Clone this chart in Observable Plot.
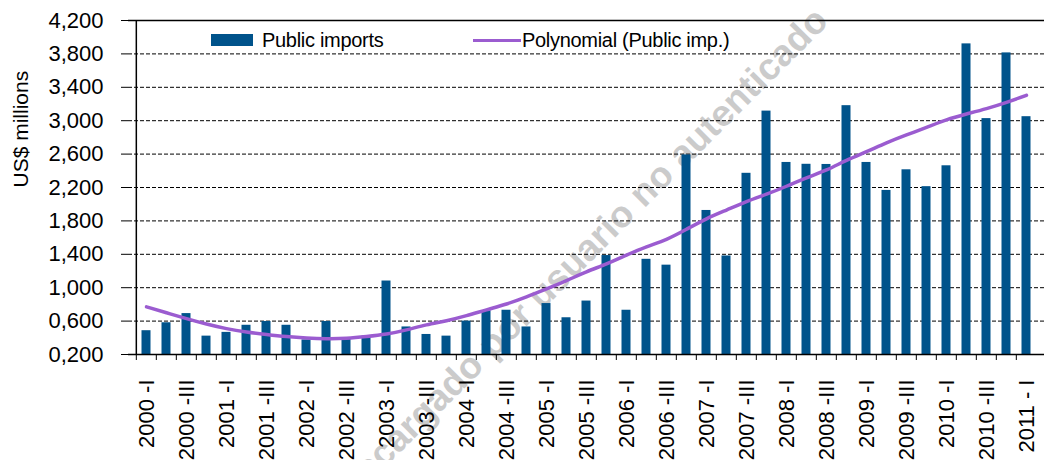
<!DOCTYPE html>
<html>
<head>
<meta charset="utf-8">
<script src="https://cdn.jsdelivr.net/npm/d3@7"></script>
<script src="https://cdn.jsdelivr.net/npm/@observablehq/plot@0.6"></script>
<style>
  body { margin: 0; background: #fff; }
  #wrap { position: relative; width: 1044px; height: 460px; overflow: hidden; font-family: "Liberation Sans", Arial, sans-serif; }
  .leg { position: absolute; font-size: 20px; line-height: 20px; color: #000; white-space: nowrap; letter-spacing: -0.3px; }
  .sw { position: absolute; }
</style>
</head>
<body>
<div id="wrap"></div>
<script>
// ---- data ----
const years = [2000, 2001, 2002, 2003, 2004, 2005, 2006, 2007, 2008, 2009, 2010];
const romans = ["I", "II", "III", "IV"];
const quarters = years.flatMap(y => romans.map(r => `${y} -${r}`)).concat(["2011 - I"]);

// Public imports, US$ millions, one per quarter (2000-I ... 2011-I)
const publicImports = [
  485, 580, 690, 420, 465, 550, 595, 550, 375, 595, 385, 420,
  1080, 530, 440, 420, 600, 725, 730, 530, 810, 640, 840, 1385,
  730, 1340, 1270, 2590, 1925, 1380, 2370, 3115, 2500, 2478, 2476, 3180,
  2500, 2165, 2412, 2210, 2460, 3920, 3025, 3812, 3048
];

// Polynomial trend line (Public imp.), read at each quarter
const polyTrend = [
  770, 700, 630, 565, 510, 470, 440, 415, 398, 390, 395, 415,
  445, 495, 555, 605, 665, 735, 805, 890, 985, 1085, 1190, 1285,
  1390, 1490, 1580, 1700, 1825, 1930, 2030, 2120, 2215, 2315, 2410, 2525,
  2630, 2735, 2830, 2920, 3010, 3080, 3145, 3220, 3305
];

const yTicks = [200, 600, 1000, 1400, 1800, 2200, 2600, 3000, 3400, 3800, 4200];
const yTickLabels = ["0,200", "0,600", "1,000", "1,400", "1,800", "2,200", "2,600", "3,000", "3,400", "3,800", "4,200"];
const xTickLabels = quarters.filter((q, i) => i % 2 === 0);

const seriesName = "Public imports";
const trendName = "Polynomial (Public imp.)";
const yTitle = "US$ millions";
const watermark = "Descargado por usuario no autenticado";

// ---- chart ----
const W = 1044, H = 460, ML = 128, MR = 0, MT = 20, MB = 106;
const step = (W - ML - MR) / quarters.length;
const data = quarters.map((q, i) => ({q, v: publicImports[i], t: polyTrend[i]}));
const yMin = yTicks[0], yMax = yTicks[yTicks.length - 1];
const barColor = "#00538b";
const lineColor = "#9b5cd0";

const chart = Plot.plot({
  width: W, height: H,
  marginLeft: ML, marginRight: MR, marginTop: MT, marginBottom: MB,
  style: {fontFamily: '"Liberation Sans", Arial, sans-serif', fontSize: "22px", background: "white", color: "#000"},
  x: {type: "band", domain: quarters, padding: 0, axis: null},
  y: {domain: [yMin, yMax], axis: null},
  marks: [
    Plot.text([watermark], {text: d => d, frameAnchor: "middle", dx: -12, dy: 74, rotate: -45,
      fontSize: 37, fontWeight: "bold", fill: "#cbcbcb"}),
    Plot.gridY(yTicks, {stroke: "#000", strokeOpacity: 1, strokeDasharray: "4,2"}),
    Plot.barY(data, {x: "q", y1: yMin, y2: "v", fill: barColor, insetLeft: 5.5, insetRight: 5.5}),
    Plot.line(data, {x: "q", y: "t", stroke: lineColor, strokeWidth: 3.5, curve: "natural"}),
    Plot.ruleY([yMin], {stroke: "#000", strokeWidth: 1.5}),
    Plot.ruleY([yMax], {stroke: "#000", strokeWidth: 1.5}),
    Plot.ruleX([quarters[0]], {dx: -step / 2, stroke: "#000", strokeWidth: 1.5}),
    Plot.ruleX(quarters, {x: d => d, y1: yMin, y2: yMin, insetBottom: -6, dx: -step / 2, stroke: "#000"}),
    Plot.axisY(yTicks, {tickFormat: d => yTickLabels[yTicks.indexOf(d)], tickSize: 7, tickPadding: 18,
      fontSize: 22, label: null, stroke: "#000"}),
    Plot.axisX(xTickLabels, {tickSize: 0, tickPadding: 25, tickRotate: -90, fontSize: 22, label: null}),
    Plot.text([yTitle], {text: d => d, frameAnchor: "left", dx: -107, rotate: -90, fontSize: 21})
  ]
});

const wrap = document.getElementById("wrap");
wrap.appendChild(chart);

// ---- legend (overlay inside plot area) ----
function addEl(cls, css, txt) {
  const e = document.createElement("div");
  e.className = cls;
  Object.assign(e.style, css);
  if (txt) e.textContent = txt;
  wrap.appendChild(e);
}
addEl("sw", {left: "211px", top: "34px", width: "42px", height: "12px", background: barColor});
addEl("leg", {left: "262px", top: "30px"}, seriesName);
addEl("sw", {left: "473px", top: "38.5px", width: "48px", height: "3px", background: lineColor});
addEl("leg", {left: "522px", top: "30px"}, trendName);
</script>
</body>
</html>
